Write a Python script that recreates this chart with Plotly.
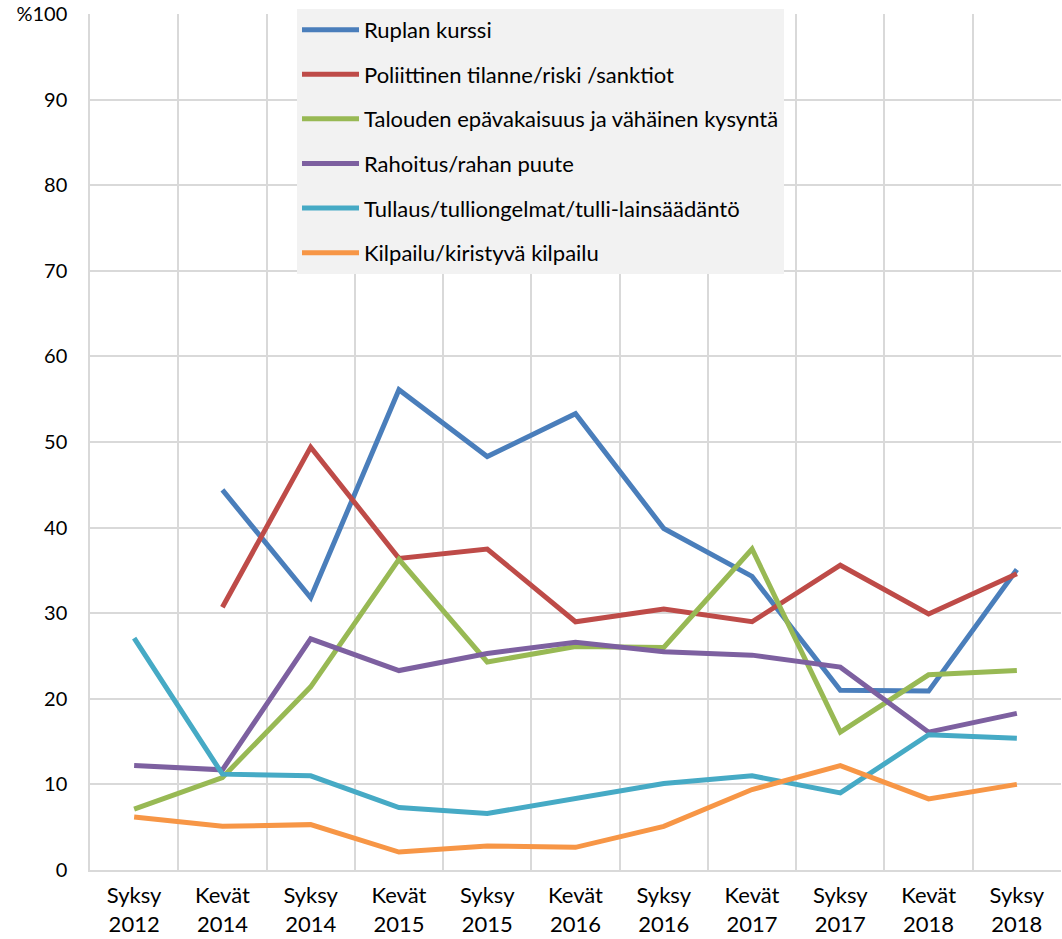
import plotly.graph_objects as go

categories = ["Syksy<br>2012", "Kevät<br>2014", "Syksy<br>2014", "Kevät<br>2015", "Syksy<br>2015",
              "Kevät<br>2016", "Syksy<br>2016", "Kevät<br>2017", "Syksy<br>2017", "Kevät<br>2018", "Syksy<br>2018"]

ruplan_kurssi = [None, 44.4, 31.8, 56.1, 48.3, 53.3, 39.9, 34.3, 21.0, 20.9, 35.1]
poliittinen = [None, 30.7, 49.4, 36.4, 37.5, 29.0, 30.5, 29.0, 35.6, 29.9, 34.6]
talouden = [7.1, 10.8, 21.4, 36.3, 24.3, 26.1, 26.0, 37.5, 16.1, 22.8, 23.3]
rahoitus = [12.2, 11.7, 27.0, 23.3, 25.3, 26.6, 25.5, 25.1, 23.7, 16.1, 18.3]
tullaus = [27.1, 11.2, 11.0, 7.3, 6.6, 8.3, 10.1, 11.0, 9.0, 15.8, 15.4]
kilpailu = [6.2, 5.1, 5.3, 2.1, 2.8, 2.65, 5.1, 9.4, 12.2, 8.3, 10.0]

series_names = ["Ruplan kurssi", "Poliittinen tilanne/riski /sanktiot",
                "Talouden epävakaisuus ja vähäinen kysyntä", "Rahoitus/rahan puute",
                "Tullaus/tulliongelmat/tulli-lainsäädäntö", "Kilpailu/kiristyvä kilpailu"]
series_values = [ruplan_kurssi, poliittinen, talouden, rahoitus, tullaus, kilpailu]
colors = ["#4A7EBB", "#BE4B48", "#98B954", "#7D60A0", "#46AAC5", "#F79646"]

y_tickvals = [0, 10, 20, 30, 40, 50, 60, 70, 80, 90, 100]
y_ticktext = ["0", "10", "20", "30", "40", "50", "60", "70", "80", "90", "%100"]

fig = go.Figure()
for i, (name, vals, col) in enumerate(zip(series_names, series_values, colors)):
    fig.add_trace(go.Scatter(
        x=categories, y=vals, name=name, mode="lines",
        line=dict(color=col, width=5), connectgaps=False,
        legendgroup=str(i),
    ))

fig.update_layout(
    width=1062, height=939,
    margin=dict(l=90, r=1, t=14, b=69),
    plot_bgcolor="white", paper_bgcolor="white",
    font=dict(family="Lato, Noto Sans, sans-serif", size=18, color="black"),
    showlegend=True,
    legend=dict(
        x=(297 - 90) / 971, y=1.006, xanchor="left", yanchor="top",
        bgcolor="#F2F2F2", font=dict(size=22, color="black"),
        tracegroupgap=13, itemwidth=57,
    ),
)
fig.update_xaxes(
    type="category", tickson="boundaries", showgrid=True, gridcolor="#D9D9D9", gridwidth=1.5,
    showline=True, linecolor="#D9D9D9", linewidth=1.5, ticks="",
    tickfont=dict(family="Liberation Sans Narrow, Lato, sans-serif", size=22, color="black"),
    range=[-0.5, 10.5], fixedrange=True, ticklabelstandoff=5, automargin=False,
)
fig.update_yaxes(
    range=[0, 100], tickvals=y_tickvals, ticktext=y_ticktext,
    showgrid=True, gridcolor="#D9D9D9", gridwidth=1.5, zeroline=False,
    showline=True, linecolor="#D9D9D9", linewidth=1.5, mirror=False,
    ticks="", ticklabelstandoff=17, ticklabeloverflow="allow", automargin=False,
    tickfont=dict(size=20, color="black"),
)

# remove the default 8px page margin so the figure fills the window exactly
fig.write_html(
    "out.html",
    config={"displayModeBar": False},
    post_script="document.body.style.margin='0';document.body.style.overflow='hidden';",
)
